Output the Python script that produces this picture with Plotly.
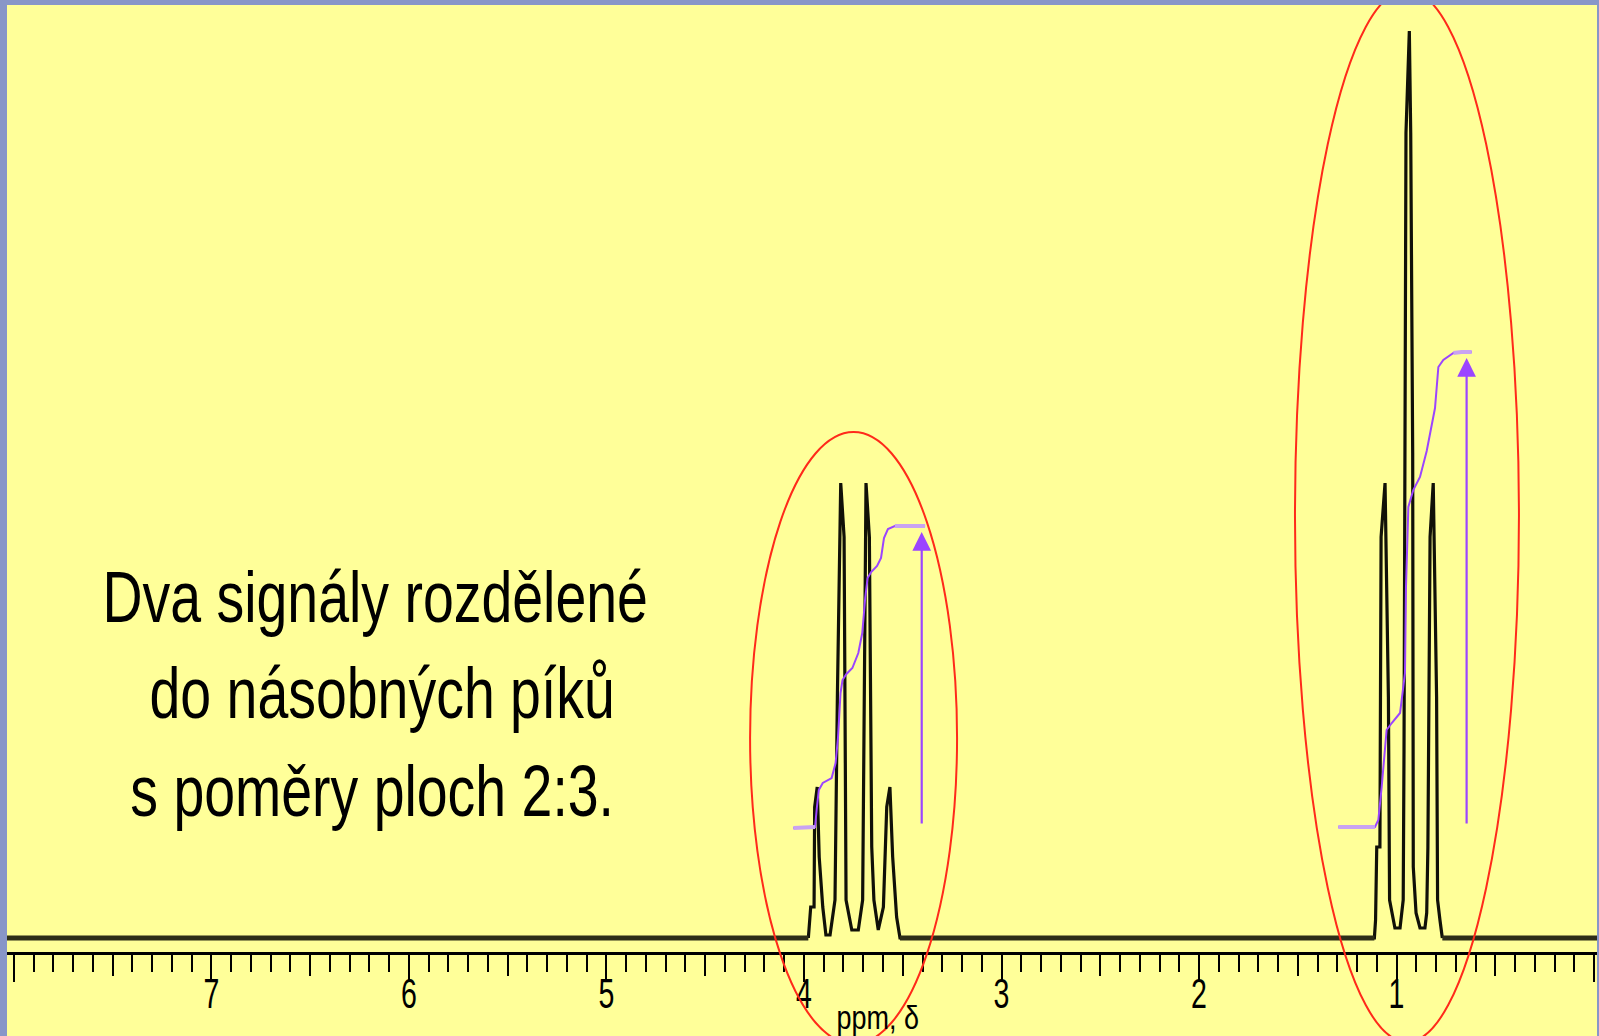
import plotly.graph_objects as go

# ---------------- data ----------------
# chemical-shift axis (ppm) and tick labels
tick_values = [0, 1, 2, 3, 4, 5, 6, 7, 8]
tick_labels = ["0", "1", "2", "3", "4", "5", "6", "7", ""]
half_tick_values = [0.5, 1.5, 2.5, 3.5, 4.5, 5.5, 6.5, 7.5]

# flat baseline pieces of the spectrum (ppm start, ppm end)
baseline_start_ppm = [8.2, 3.514, 0.768]
baseline_end_ppm = [3.978, 1.112, -0.2]

# quartet (~3.75 ppm), stepped outline of the trace
quartet_ppm = [3.978, 3.966, 3.949, 3.946, 3.933, 3.923, 3.905, 3.889, 3.868, 3.843,
               3.831, 3.814, 3.797, 3.787, 3.758, 3.725, 3.703, 3.696, 3.686, 3.669,
               3.657, 3.646, 3.624, 3.598, 3.581, 3.565, 3.551, 3.531, 3.514]
quartet_int = [0, 31, 31, 131, 151, 81, 31, 3, 3, 38,
               241, 455, 401, 38, 8, 8, 38, 241, 455, 401,
               91, 38, 8, 31, 131, 151, 81, 21, 0]

# triplet (~0.94 ppm)
triplet_ppm = [1.112, 1.106, 1.100, 1.084, 1.078, 1.058, 1.041, 1.035, 1.008, 0.982,
               0.966, 0.962, 0.952, 0.935, 0.928, 0.918, 0.915, 0.901, 0.881, 0.856,
               0.847, 0.841, 0.830, 0.814, 0.797, 0.792, 0.780, 0.768]
triplet_int = [0, 18, 91, 91, 401, 455, 241, 38, 10, 10,
               38, 185, 805, 907, 805, 485, 71, 25, 10, 10,
               25, 91, 401, 455, 241, 38, 18, 0]

# integration curves
quartet_integral_ppm = [4.054, 3.944, 3.935, 3.925, 3.905, 3.860, 3.840, 3.828, 3.815, 3.805,
                        3.785, 3.755, 3.725, 3.705, 3.690, 3.678, 3.660, 3.630, 3.610, 3.595,
                        3.575, 3.540, 3.387]
quartet_integral = [110, 111, 130, 148, 155, 160, 175, 200, 245, 258,
                    264, 270, 285, 305, 340, 360, 366, 372, 380, 400,
                    409, 412, 412]

triplet_integral_ppm = [1.295, 1.109, 1.092, 1.075, 1.050, 1.024, 0.982, 0.957, 0.952, 0.940,
                        0.915, 0.881, 0.847, 0.805, 0.788, 0.763, 0.712, 0.670, 0.619]
triplet_integral = [111, 111, 118, 151, 208, 215, 225, 265, 351, 431,
                    448, 461, 487, 530, 571, 578, 585, 586, 586]

# integral-height arrows (ppm, base, top)
arrow_ppm = [3.404, 0.645]
arrow_base = [113, 113]
arrow_top = [406, 580]

# circled regions (ppm left, ppm right, intensity bottom, intensity top)
ellipse_ppm_left = [4.273, 1.514]
ellipse_ppm_right = [3.225, 0.380]
ellipse_int_bottom = [-106, -104]
ellipse_int_top = [506, 948]

text_lines = ["Dva signály rozdělené", "do násobných píků", "s poměry ploch 2:3."]
axis_label = "ppm, δ"

# ---------------- figure ----------------
X_RANGE = [8.0354, -0.0152]
Y_RANGE = [-98, 933]
AXIS_POS = 0.0805
LABEL_POS = 0.0689
PURPLE = "#9B45FF"
LAVENDER = "#C9A3F2"
FONT = "Liberation Sans, Arial, sans-serif"

spec_x = quartet_ppm + triplet_ppm
spec_y = quartet_int + triplet_int

fig = go.Figure()

# thick flat baseline (on overlay axis x3, which carries the tick labels)
for b0, b1 in zip(baseline_start_ppm, baseline_end_ppm):
    fig.add_trace(go.Scatter(x=[b0, b1], y=[0, 0], mode="lines", xaxis="x3",
                             line=dict(color="#2e2e18", width=5), hoverinfo="skip"))

fig.add_trace(go.Scatter(x=spec_x, y=spec_y, mode="lines",
                         line=dict(color="#111108", width=3.2), hoverinfo="skip"))

# integration curves (on overlay axis x2)
fig.add_trace(go.Scatter(x=quartet_integral_ppm, y=quartet_integral, mode="lines", xaxis="x2",
                         line=dict(color=PURPLE, width=2), hoverinfo="skip"))
fig.add_trace(go.Scatter(x=triplet_integral_ppm, y=triplet_integral, mode="lines", xaxis="x2",
                         line=dict(color=PURPLE, width=2), hoverinfo="skip"))
for xs, ys in [(quartet_integral_ppm[:2], quartet_integral[:2]),
               (quartet_integral_ppm[-2:], quartet_integral[-2:]),
               (triplet_integral_ppm[:2], triplet_integral[:2]),
               (triplet_integral_ppm[-3:], triplet_integral[-3:])]:
    fig.add_trace(go.Scatter(x=xs, y=ys, mode="lines", xaxis="x2",
                             line=dict(color=LAVENDER, width=4), hoverinfo="skip"))

# circles
for x0, x1, y0, y1 in zip(ellipse_ppm_left, ellipse_ppm_right, ellipse_int_bottom, ellipse_int_top):
    fig.add_shape(type="circle", xref="x", yref="y", x0=x0, x1=x1, y0=y0, y1=y1,
                  line=dict(color="#FF2A1A", width=2), layer="above")

# arrows
for xp, yb, yt in zip(arrow_ppm, arrow_base, arrow_top):
    fig.add_annotation(x=xp, y=yt, ax=xp, ay=yb, xref="x", yref="y", axref="x", ayref="y",
                       text="", showarrow=True, arrowhead=2, arrowsize=1.7,
                       arrowwidth=2.2, arrowcolor=PURPLE)

# text block
text_pos = [(6.172, 341), (6.137, 245), (6.187, 147)]
for t, (tx, ty) in zip(text_lines, text_pos):
    fig.add_annotation(x=tx, y=ty, xref="x", yref="y", text=t, showarrow=False,
                       xanchor="center", yanchor="middle",
                       font=dict(family=FONT, size=72, color="black"))

fig.add_annotation(x=3.625, y=-79, xref="x", yref="y", text=axis_label, showarrow=False,
                   xanchor="center", yanchor="middle",
                   font=dict(family=FONT, size=30, color="black"))

common = dict(range=X_RANGE, anchor="free", side="bottom",
              showgrid=False, zeroline=False, fixedrange=True, automargin=False)

fig.update_layout(
    width=1599, height=1036,
    margin=dict(l=7, r=2, t=5, b=0, pad=0, autoexpand=False),
    paper_bgcolor="#8896C8", plot_bgcolor="#FFFF99",
    showlegend=False,
    xaxis=dict(**common, position=AXIS_POS, showline=True, linecolor="black", linewidth=2.5,
               tickmode="array", tickvals=tick_values, showticklabels=False,
               ticks="outside", ticklen=27, tickwidth=2, tickcolor="black",
               minor=dict(dtick=0.1, tick0=0, ticks="outside", ticklen=17,
                          tickwidth=2, tickcolor="black", showgrid=False)),
    xaxis2=dict(**common, position=AXIS_POS, overlaying="x", showline=False,
                tickmode="array", tickvals=half_tick_values,
                ticks="outside", ticklen=22, tickwidth=2, tickcolor="black",
                showticklabels=False),
    xaxis3=dict(**common, position=LABEL_POS, overlaying="x", showline=False, ticks="",
                tickmode="array", tickvals=tick_values, ticktext=tick_labels,
                tickfont=dict(family=FONT, size=42, color="black")),
    yaxis=dict(range=Y_RANGE, visible=False, fixedrange=True),
)

post = """
document.body.style.margin='0';document.body.style.overflow='hidden';
function squeeze(el, sx, sy){
  var b = el.getBBox(); var cx = b.x + b.width/2, cy = b.y + b.height/2;
  var t = el.getAttribute('transform') || '';
  el.setAttribute('transform', t + ' translate(' + cx + ',' + cy + ') scale(' + sx + ',' + sy + ') translate(' + (-cx) + ',' + (-cy) + ')');
}
var gd = document.getElementById('{plot_id}');
gd.querySelectorAll('text.annotation-text').forEach(function(el){
  var s = el.textContent;
  if (s.length > 10) { squeeze(el, 0.77, 1.0); }
  else if (s.indexOf('ppm') >= 0) { squeeze(el, 0.9, 1.1); }
});
gd.querySelectorAll('g.x3tick text').forEach(function(el){ squeeze(el, 0.68, 1.0); });
"""

fig.write_html("out.html", config={"displayModeBar": False}, post_script=post)
